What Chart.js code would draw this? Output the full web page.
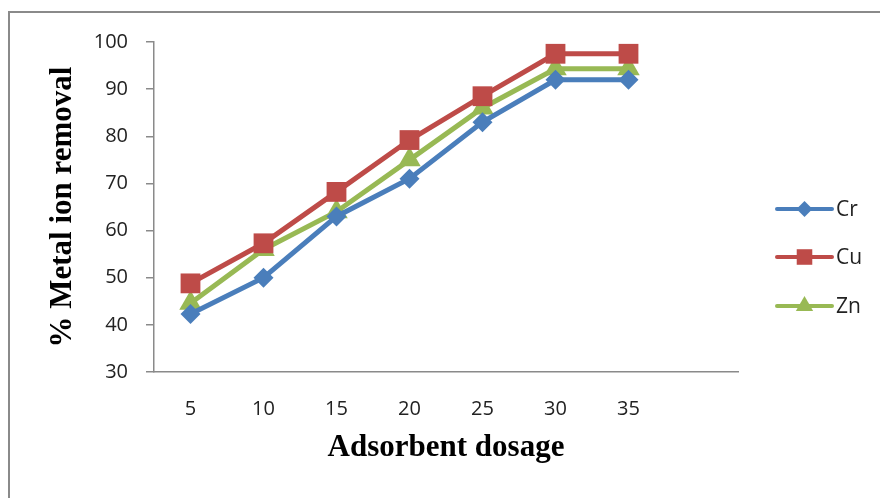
<!DOCTYPE html>
<html>
<head>
<meta charset="utf-8">
<script src="https://cdn.jsdelivr.net/npm/chart.js@4/dist/chart.umd.min.js"></script>
<style>
  html, body { margin: 0; padding: 0; background: #fff; }
  #wrap { width: 880px; height: 498px; }
</style>
</head>
<body>
<div id="wrap"><canvas id="chart" width="880" height="498"></canvas></div>
<script>
// adsorbent dosage categories (last slot left empty, like the original)
const dosages = ["5", "10", "15", "20", "25", "30", "35", ""];
const crRemoval = [42.3, 50, 63, 71, 83, 92, 92];
const cuRemoval = [48.8, 57.3, 68.2, 79.2, 88.5, 97.5, 97.5];
const znRemoval = [44.6, 56, 64, 75, 86, 94.3, 94.3];
const yTicks = [30, 40, 50, 60, 70, 80, 90, 100];

const tickFont = { family: "Open Sans", size: 20 };
const titleFont = { family: "Liberation Serif", size: 31, weight: "bold" };

// grey frame round the whole chart
const framePlugin = {
  id: "frame",
  beforeDraw: (chart) => {
    const ctx = chart.ctx;
    ctx.save();
    ctx.fillStyle = "#fff";
    ctx.fillRect(0, 0, chart.width, chart.height);
    ctx.strokeStyle = "#8a8a8a";
    ctx.lineWidth = 2;
    ctx.strokeRect(9, 12, chart.width + 20, chart.height + 20);
    ctx.restore();
  },
};

// Excel-style legend: line with marker in the middle
const legendPlugin = {
  id: "excelLegend",
  afterDraw: (chart) => {
    const ctx = chart.ctx;
    const x0 = 777, x1 = 832, textX = 836;
    const rowY = [209, 257, 306];
    chart.data.datasets.forEach((ds, i) => {
      const y = rowY[i];
      ctx.save();
      ctx.strokeStyle = ds.borderColor;
      ctx.lineWidth = 4;
      ctx.lineCap = "round";
      ctx.beginPath();
      ctx.moveTo(x0, y);
      ctx.lineTo(x1, y);
      ctx.stroke();
      ctx.fillStyle = ds.backgroundColor;
      ctx.strokeStyle = ds.borderColor;
      Chart.helpers.drawPoint(ctx, {
        pointStyle: ds.pointStyle,
        radius: ds.legendRadius,
        borderWidth: 0,
        rotation: 0,
      }, (x0 + x1) / 2, y);
      ctx.fillStyle = "#222";
      ctx.font = "21px Open Sans";
      ctx.textBaseline = "middle";
      ctx.fillText(ds.label, textX, y + 1);
      ctx.restore();
    });
  },
};

new Chart(document.getElementById("chart"), {
  type: "line",
  data: {
    labels: dosages,
    datasets: [
      {
        label: "Cr",
        data: crRemoval,
        borderColor: "#4a7ebb",
        backgroundColor: "#4a7ebb",
        borderWidth: 5,
        pointStyle: "rectRot",
        pointRadius: 10,
        pointBorderWidth: 0,
        legendRadius: 8,
        tension: 0,
      },
      {
        label: "Cu",
        data: cuRemoval,
        borderColor: "#be4b48",
        backgroundColor: "#be4b48",
        borderWidth: 5,
        pointStyle: "rect",
        pointRadius: 14,
        pointBorderWidth: 0,
        legendRadius: 11,
        tension: 0,
      },
      {
        label: "Zn",
        data: znRemoval,
        borderColor: "#98b954",
        backgroundColor: "#98b954",
        borderWidth: 5,
        pointStyle: "triangle",
        pointRadius: 13,
        pointBorderWidth: 0,
        legendRadius: 10,
        tension: 0,
      },
    ],
  },
  options: {
    responsive: false,
    animation: false,
    layout: { padding: { left: 0, top: 42, right: 142, bottom: 0 } },
    scales: {
      x: {
        type: "category",
        offset: true,
        grid: { display: false, drawTicks: false },
        border: { display: true, color: "#8a8a8a", width: 1.5 },
        ticks: { color: "#222", font: tickFont, padding: 25, maxRotation: 0, autoSkip: false },
        title: {
          display: true,
          text: "Adsorbent dosage",
          color: "#000",
          font: titleFont,
          padding: { top: 0, bottom: 31 },
        },
        afterFit: (scale) => { scale.height = 126; },
      },
      y: {
        min: yTicks[0],
        max: yTicks[yTicks.length - 1],
        afterBuildTicks: (scale) => { scale.ticks = yTicks.map((v) => ({ value: v })); },
        grid: { drawOnChartArea: false, drawTicks: true, tickLength: 8, color: "#8a8a8a", lineWidth: 1.5 },
        border: { display: true, color: "#8a8a8a", width: 1.5 },
        ticks: { color: "#222", font: tickFont, padding: 18 },
        title: {
          display: true,
          text: "% Metal ion removal",
          color: "#000",
          font: titleFont,
          padding: { top: 44, bottom: 0 },
        },
        afterFit: (scale) => { scale.width = 154; },
      },
    },
    plugins: {
      legend: { display: false },
      tooltip: { enabled: false },
    },
  },
  plugins: [framePlugin, legendPlugin],
});
</script>
</body>
</html>
